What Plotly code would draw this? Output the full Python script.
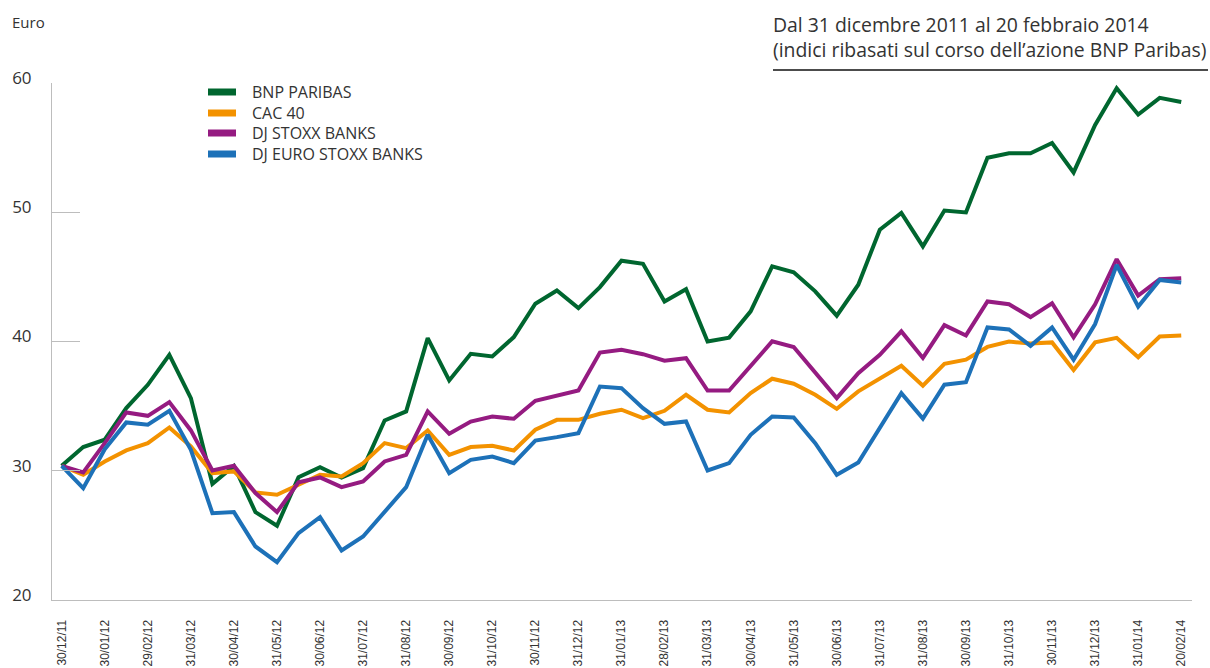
import plotly.graph_objects as go

tick_labels = ["30/12/11", "30/01/12", "29/02/12", "31/03/12", "30/04/12", "31/05/12",
               "30/06/12", "31/07/12", "31/08/12", "30/09/12", "31/10/12", "30/11/12",
               "31/12/12", "31/01/13", "28/02/13", "31/03/13", "30/04/13", "31/05/13",
               "30/06/13", "31/07/13", "31/08/13", "30/09/13", "31/10/13", "30/11/13",
               "31/12/13", "31/01/14", "20/02/14"]

bnp_paribas = [30.38, 31.83, 32.40, 34.85, 36.65, 38.97, 35.62, 28.99, 30.38, 26.80,
               25.74, 29.50, 30.28, 29.48, 30.20, 33.89, 34.59, 40.26, 36.99, 39.05,
               38.84, 40.34, 42.92, 43.95, 42.58, 44.21, 46.25, 46.01, 43.10, 44.05,
               40.00, 40.30, 42.33, 45.81, 45.35, 43.88, 42.00, 44.39, 48.65, 49.94,
               47.36, 50.13, 49.99, 54.21, 54.56, 54.56, 55.36, 53.08, 56.76, 59.60,
               57.56, 58.85, 58.53]

cac_40 = [30.38, 29.69, 30.72, 31.57, 32.14, 33.35, 31.88, 29.82, 29.95, 28.32,
          28.14, 28.92, 29.69, 29.56, 30.59, 32.14, 31.75, 33.12, 31.23, 31.83,
          31.93, 31.57, 33.17, 33.94, 33.94, 34.41, 34.72, 34.07, 34.64, 35.88,
          34.72, 34.51, 36.01, 37.12, 36.73, 35.88, 34.79, 36.14, 37.12, 38.13,
          36.58, 38.27, 38.59, 39.58, 39.99, 39.85, 39.93, 37.79, 39.93, 40.28,
          38.78, 40.39, 40.47]

dj_stoxx_banks = [30.38, 29.87, 32.14, 34.51, 34.25, 35.31, 33.12, 30.02, 30.38, 28.27,
                  26.80, 29.10, 29.48, 28.73, 29.17, 30.72, 31.23, 34.59, 32.86, 33.81,
                  34.20, 34.02, 35.41, 35.80, 36.21, 39.15, 39.36, 39.02, 38.51, 38.71,
                  36.21, 36.21, 38.07, 40.01, 39.57, 37.55, 35.62, 37.55, 38.97, 40.78,
                  38.73, 41.27, 40.47, 43.10, 42.88, 41.89, 42.96, 40.33, 42.88, 46.37,
                  43.56, 44.82, 44.90]

dj_euro_stoxx_banks = [30.38, 28.65, 31.67, 33.74, 33.56, 34.64, 31.62, 26.72, 26.80, 24.14,
                       22.93, 25.17, 26.41, 23.83, 24.91, 26.77, 28.73, 32.78, 29.81, 30.84,
                       31.10, 30.59, 32.34, 32.60, 32.91, 36.52, 36.39, 34.84, 33.63, 33.81,
                       30.02, 30.59, 32.78, 34.20, 34.12, 32.14, 29.69, 30.64, 33.30, 36.00,
                       34.03, 36.66, 36.85, 41.09, 40.93, 39.66, 41.09, 38.59, 41.35, 45.92,
                       42.70, 44.76, 44.57]

series_names = ["BNP PARIBAS", "CAC 40", "DJ STOXX BANKS", "DJ EURO STOXX BANKS"]
series_values = [bnp_paribas, cac_40, dj_stoxx_banks, dj_euro_stoxx_banks]
series_colors = ["#00662F", "#F39200", "#951B81", "#1D71B8"]

W, H = 1210, 668
ML, MR, MT, MB = 52, 18, 83, 68
PW, PH = W - ML - MR, H - MT - MB


def px_x(p):
    return (p - ML) / PW


def px_y(p):
    return (H - MB - p) / PH


x_idx = list(range(len(bnp_paribas)))

fig = go.Figure()
for name, vals, col in zip(series_names, series_values, series_colors):
    fig.add_trace(go.Scatter(x=x_idx, y=vals, mode="lines", name=name,
                             line=dict(color=col, width=4)))

text_font = "Open Sans, Lato, sans-serif"

fig.update_layout(
    width=W, height=H,
    margin=dict(l=ML, r=MR, t=MT, b=MB, autoexpand=False),
    paper_bgcolor="white", plot_bgcolor="white",
    showlegend=False,
    xaxis=dict(range=[-0.45, 52.5], showgrid=False, zeroline=False,
               showline=True, linecolor="#BDBDBD", linewidth=1,
               tickmode="array", tickvals=x_idx[::2], ticktext=tick_labels,
               tickangle=-90, ticks="", automargin=False, ticklabelstandoff=14,
               tickfont=dict(family="Liberation Sans, Arial, sans-serif", size=12, color="#333333")),
    yaxis=dict(range=[20, 60], showgrid=False, zeroline=False,
               showline=True, linecolor="#BDBDBD", linewidth=1,
               tickmode="array", tickvals=[20, 30, 40, 50, 60],
               ticks="inside", ticklen=28, tickcolor="#BDBDBD", tickwidth=1,
               ticklabelstandoff=16, ticklabelshift=-5, automargin=False,
               tickfont=dict(family=text_font, size=17, color="#333333")),
)

# legend drawn manually
leg_y = [92, 113, 133, 154]
for name, col, yy in zip(series_names, series_colors, leg_y):
    fig.add_shape(type="line", xref="paper", yref="paper",
                  x0=px_x(208), x1=px_x(236), y0=px_y(yy), y1=px_y(yy),
                  line=dict(color=col, width=7))
    fig.add_annotation(xref="paper", yref="paper", x=px_x(250), y=px_y(yy),
                       xanchor="left", yanchor="middle", showarrow=False, text=name,
                       font=dict(family=text_font, size=16, color="#333333"))

fig.add_annotation(xref="paper", yref="paper", x=px_x(771), y=px_y(9),
                   xanchor="left", yanchor="top", align="left", showarrow=False,
                   text="Dal 31 dicembre 2011 al 20 febbraio 2014<br>(indici ribasati sul corso dell\u2019azione BNP Paribas)",
                   font=dict(family=text_font, size=19.4, color="#333333"))
fig.add_shape(type="line", xref="paper", yref="paper",
              x0=px_x(773), x1=px_x(1208), y0=px_y(70), y1=px_y(70),
              line=dict(color="#111111", width=1.5))
fig.add_annotation(xref="paper", yref="paper", x=px_x(10), y=px_y(22),
                   xanchor="left", yanchor="middle", showarrow=False,
                   text="Euro", font=dict(family=text_font, size=15, color="#333333"))

fig.write_html("out.html", config={"displayModeBar": False},
               post_script="document.body.style.margin='0';")
